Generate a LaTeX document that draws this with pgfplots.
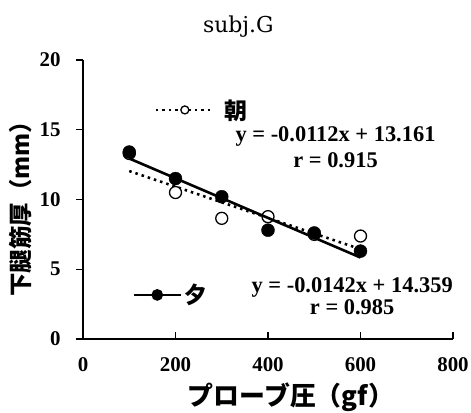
\documentclass[border=0pt]{standalone}
\usepackage{fontspec}
\usepackage{pgfplots}
\pgfplotsset{compat=1.18}
\setmainfont{Liberation Serif}
\newfontfamily\dvs{DejaVu Serif}
\newfontfamily\jp{Noto Sans CJK JP}

% 朝 (morning) and 夕 (evening) measurements
\pgfplotstableread{
x y
100 13.3
200 10.5
300 8.65
400 8.77
500 7.5
600 7.38
}\asa
\pgfplotstableread{
x y
100 13.4
200 11.5
300 10.2
400 7.8
500 7.6
600 6.3
}\yuu

\pgfplotsset{
  base/.style={
    scale only axis, width=370bp, height=279bp,
    xmin=0, xmax=800, ymin=0, ymax=20,
    clip=false,
  },
}

\begin{document}
\begin{tikzpicture}
\useasboundingbox (-83bp,-74bp) rectangle (388bp,339bp);
\begin{axis}[
  base,
  legend image code/.code={
    \draw[mark repeat=2,mark phase=2,#1] plot coordinates {(0cm,0cm)(1.02cm,0cm)(2.05cm,0cm)};
  },
  axis x line*=bottom, axis y line*=left,
  axis line style={line width=1.3bp},
  xtick={0,200,...,800}, ytick={0,5,...,20},
  tick align=outside, major tick length=7bp,
  tick style={line width=1.2bp, black},
  xtick style={yshift=7bp},
  /pgf/number format/assume math mode=true,
  xticklabel={\pgfmathprintnumber{\tick}},
  yticklabel={\pgfmathprintnumber{\tick}},
  tick label style={font=\fontsize{21}{24}\selectfont\bfseries},
  xticklabel style={yshift=-8.5bp},
  yticklabel style={xshift=-12bp},
  title={\dvs subj.G},
  title style={font=\fontsize{22}{26}\selectfont, at={(axis description cs:0.42,1.097)}, anchor=center},
  xlabel={\jp\bfseries プローブ圧（gf）},
  xlabel style={font=\fontsize{26}{30}\selectfont, at={(axis description cs:0.562,-0.21)}, anchor=center},
  ylabel={\jp\bfseries 下腿筋厚（mm）},
  ylabel style={font=\fontsize{23.5}{27}\selectfont, at={(axis description cs:-0.17,0.487)}, anchor=center},
  legend style={at={(axis description cs:0.185,0.821)}, anchor=west, draw=none, fill=none,
    font=\fontsize{23}{27}\selectfont\jp\bfseries},
]
\addlegendimage{black, line width=2.6bp, dash pattern=on 2.5bp off 4bp, mark=*,
  mark options={solid, fill=white, draw=black, line width=1.3bp, mark size=4bp}}
\addlegendentry{\hspace{7bp}朝}
% trendline 朝
\addplot[forget plot, black, line width=2.6bp, dash pattern=on 2.5bp off 4bp]
  coordinates {(100,12.04) (600,6.44)};
\addplot[forget plot, only marks, mark=*, mark size=6bp,
  mark options={fill=white, draw=black, line width=1.3bp}] table {\asa};
\node[font=\fontsize{22.5}{26.5}\selectfont\bfseries, align=center] at (axis cs:546,13.76)
  {y = -0.0112x + 13.161\\r = 0.915};
\node[font=\fontsize{22.5}{22.5}\selectfont\bfseries, align=center] at (axis cs:582,3.08)
  {y = -0.0142x + 14.359\\r = 0.985};
\end{axis}

\begin{axis}[
  base, hide axis,
  legend image code/.code={
    \draw[mark repeat=2,mark phase=2,#1] plot coordinates {(0cm,0cm)(0.83cm,0cm)(1.66cm,0cm)};
  },
  legend style={at={(axis description cs:0.125,0.158)}, anchor=west, draw=none, fill=none,
    font=\fontsize{23}{27}\selectfont\jp\bfseries},
]
\addlegendimage{black, line width=2.6bp, mark=*, mark options={fill=black, mark size=4.5bp}}
\addlegendentry{夕}
% trendline 夕
\addplot[forget plot, black, line width=2.6bp] coordinates {(100,12.94) (600,5.84)};
\addplot[forget plot, only marks, mark=*, mark size=6.5bp, mark options={fill=black}] table {\yuu};
\end{axis}
\end{tikzpicture}
\end{document}
